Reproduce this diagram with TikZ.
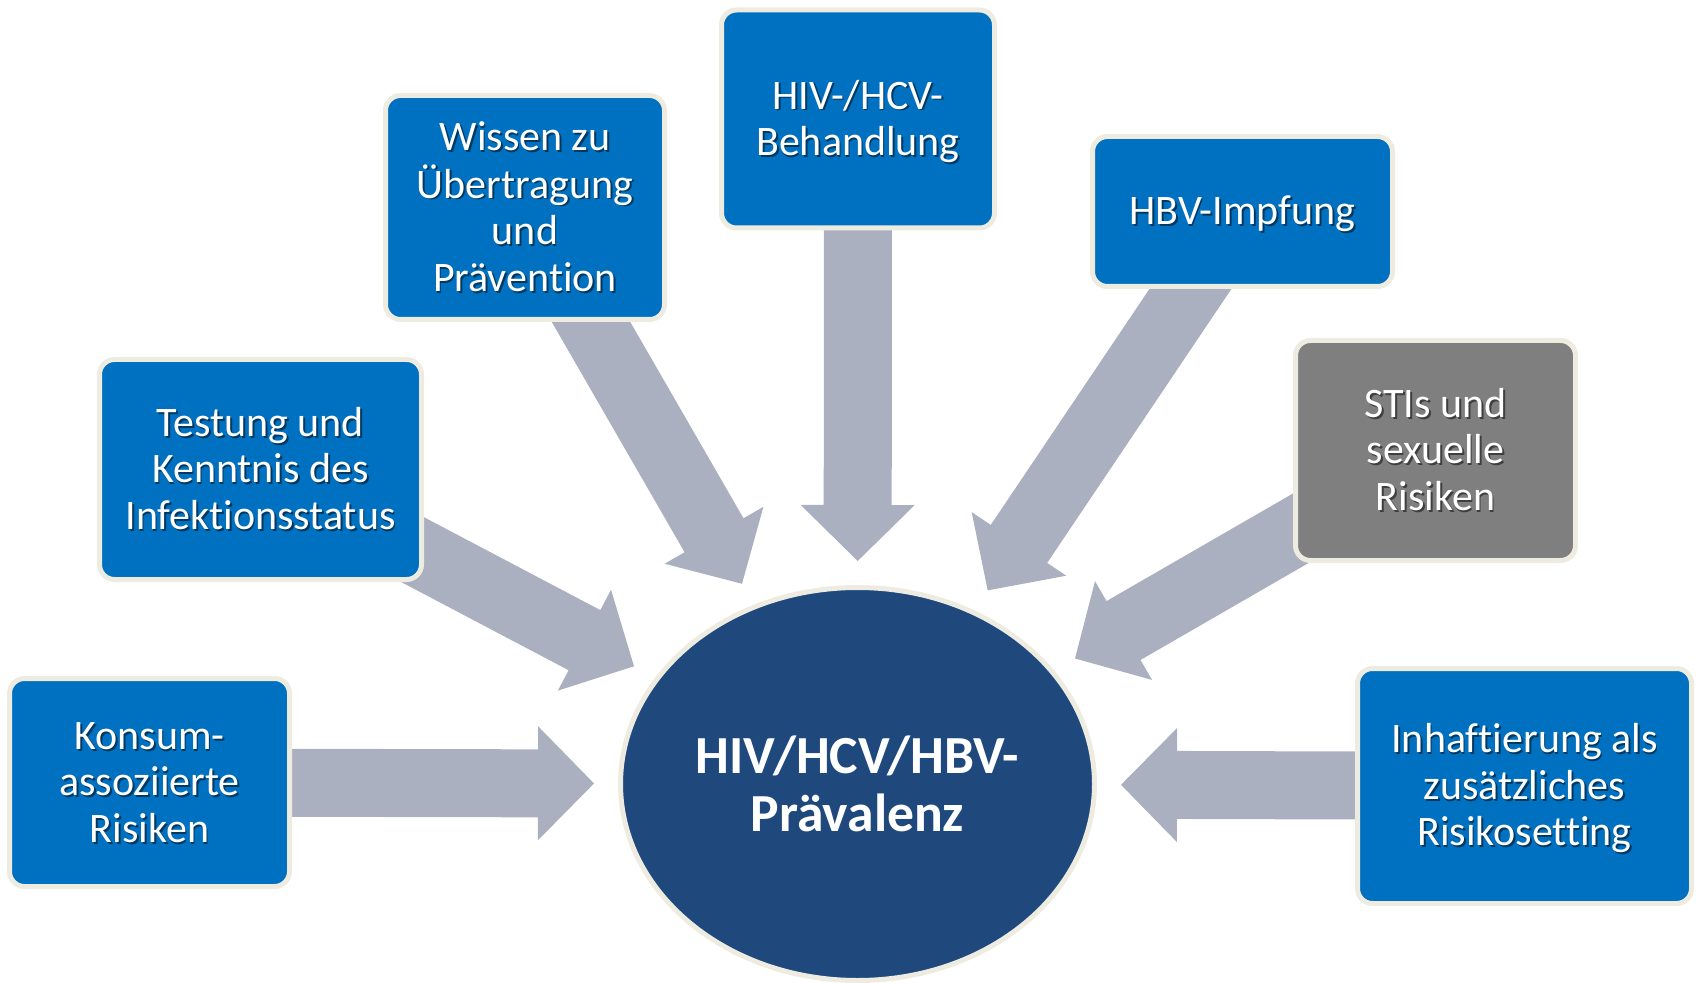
\documentclass[tikz,border=0pt]{standalone}
\usepackage{fontspec}
\setmainfont[Ligatures=NoCommon]{Carlito}
\usetikzlibrary{calc,shapes.geometric}
\pgfdeclarelayer{bg}
\pgfsetlayers{bg,main}
\definecolor{boxblue}{HTML}{0070C0}
\definecolor{boxgray}{HTML}{7F7F7F}
\definecolor{cream}{HTML}{EEECE1}
\definecolor{arrowgray}{HTML}{AAB0BF}
\definecolor{ellblue}{HTML}{1F497D}
\colorlet{blueshadow}{boxblue!50!black}
\colorlet{grayshadow}{boxgray!50!black}
\newcommand\shtxt[2][blueshadow]{\leavevmode\raisebox{-2pt}[\height][\depth]{%
  \rlap{\hspace{0.9pt}\raisebox{-0.9pt}[0pt][0pt]{\textcolor{#1}{\begin{tabular}{@{}c@{}}#2\end{tabular}}}}%
  \begin{tabular}{@{}c@{}}#2\end{tabular}}}
\tikzset{
  box/.style={draw=cream, line width=2.5pt, rounded corners=7.5pt, fill=boxblue,
    text=white, align=center, inner sep=0pt,
    font=\fontsize{21}{23.3}\selectfont},
  graybox/.style={box, fill=boxgray},
  ell/.style={ellipse, draw=cream, line width=2.5pt, fill=ellblue, text=white,
    align=center, inner sep=0pt, minimum width=237pt, minimum height=196.5pt,
    font=\fontsize{26.8}{28.7}\selectfont\bfseries},
  arrowfill/.style={fill=arrowgray}
}
\newcommand\blockarrow[1]{%
  \path (#1.center) -- (prev) coordinate[pos=1] (#1B);
  \coordinate (#1T) at ($(#1B)!12pt!(#1.center)$);
  \coordinate (#1H) at ($(#1T)!28pt!(#1.center)$);
  \fill[arrowfill]
    ($(#1.center)!17pt!90:(#1T)$) --
    ($(#1H)!17pt!90:(#1T)$) --
    ($(#1H)!28.5pt!90:(#1T)$) --
    (#1T) --
    ($(#1H)!28.5pt!-90:(#1T)$) --
    ($(#1H)!17pt!-90:(#1T)$) --
    ($(#1.center)!17pt!-90:(#1T)$) -- cycle;
}
\begin{document}
\begin{tikzpicture}[x=0.5pt,y=-0.5pt]
\useasboundingbox (0,0) rectangle (1696,983);

\node[ell] (prev) at (857.5,784) {HIV/HCV/HBV-\\Prävalenz};

\node[box, minimum width=140pt, minimum height=104pt] (konsum) at (149.5,782.5)
  {\shtxt{Konsum-\\assoziierte\\Risiken}};
\node[box, minimum width=161pt, minimum height=110pt] (testung) at (260.5,469.5)
  {\shtxt{Testung und\\Kenntnis des\\Infektionsstatus}};
\node[box, minimum width=139.5pt, minimum height=112pt] (wissen) at (525,207.5)
  {\shtxt{Wissen zu\\Übertragung\\und\\Prävention}};
\node[box, minimum width=136.5pt, minimum height=109pt] (behand) at (858,119)
  {\shtxt{HIV-/HCV-\\Behandlung}};
\node[box, minimum width=150pt, minimum height=75pt] (hbv) at (1242.5,211.5)
  {\shtxt{HBV-Impfung}};
\node[graybox, minimum width=140pt, minimum height=110pt] (stis) at (1435.5,450.5)
  {\shtxt[grayshadow]{STIs und\\sexuelle\\Risiken}};
\node[box, minimum width=167pt, minimum height=117.5pt] (inhaft) at (1524.5,786)
  {\shtxt{Inhaftierung als\\zusätzliches\\Risikosetting}};

\begin{pgfonlayer}{bg}
\blockarrow{konsum}
\blockarrow{testung}
\blockarrow{wissen}
\blockarrow{behand}
\blockarrow{hbv}
\blockarrow{stis}
\blockarrow{inhaft}
\end{pgfonlayer}
\end{tikzpicture}
\end{document}
